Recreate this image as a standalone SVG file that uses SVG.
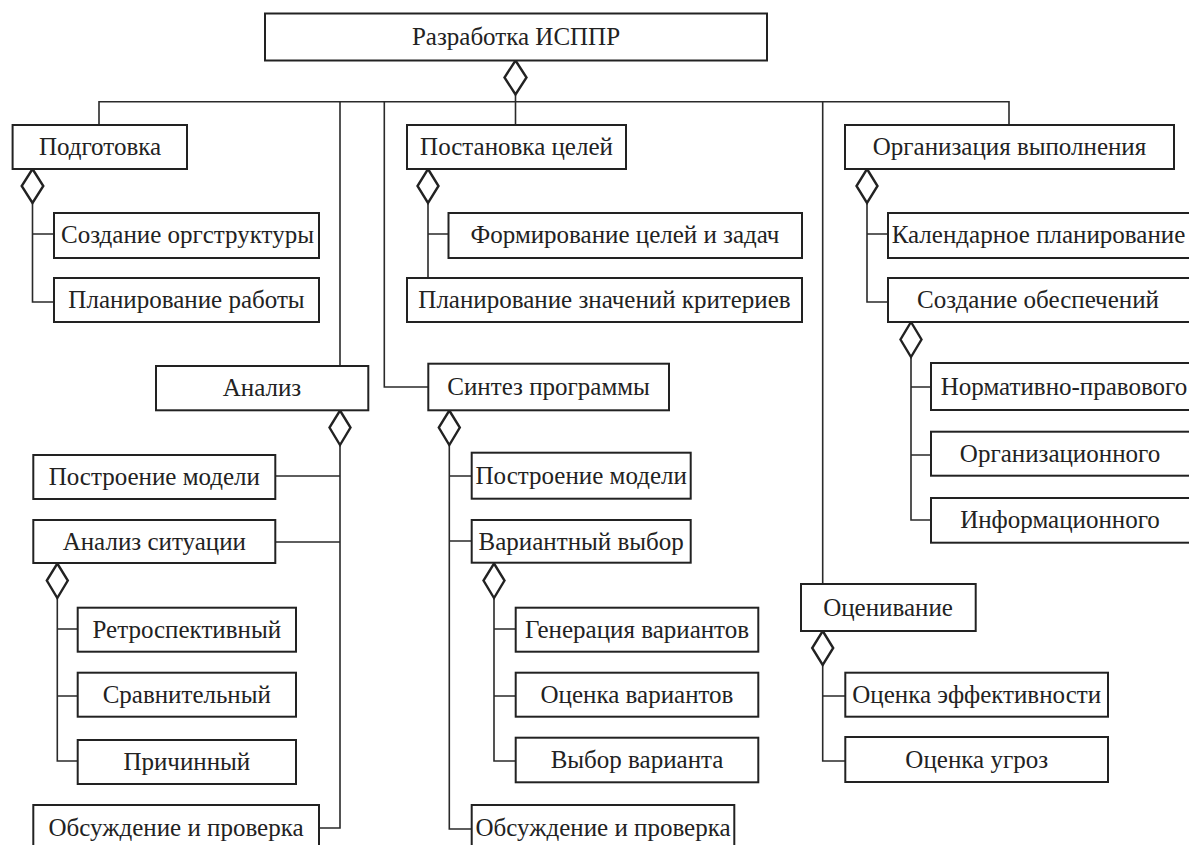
<svg xmlns="http://www.w3.org/2000/svg" width="1189" height="845" viewBox="0 0 1189 845">
<style>
.n rect{fill:#fff;stroke:#222;stroke-width:2}
.n text{font-family:"Liberation Serif","Times New Roman",serif;font-size:25px;fill:#222;text-anchor:middle}
.c path{fill:none;stroke:#2a2a2a;stroke-width:1.6}
.d{fill:#fff;stroke:#222;stroke-width:2.4}
</style>
<rect width="1189" height="845" fill="#fff"/>
<g class="c" id="connectors">
<path d="M99 125V101.7H1009V125"/>
<path d="M515.5 95V125"/>
<path d="M340 101.7V366"/>
<path d="M384.3 101.7V387H428"/>
<path d="M822.7 101.7V584"/>
<path d="M32.5 203V302H54M32.5 234H54"/>
<path d="M428 203V278M428 234H448"/>
<path d="M867 203V302H888M867 234H888"/>
<path d="M911 357V520H931M911 387H931M911 455H931"/>
<path d="M822.7 665V761H845M822.7 696H845"/>
<path d="M340 445V828H319M340 476H275M340 542H275"/>
<path d="M57.3 598V761H78M57.3 629H78M57.3 696H78"/>
<path d="M449.3 445V829H472M449.3 476H472M449.3 541H472"/>
<path d="M494 598V761H516M494 629H516M494 696H516"/>
<polygon class="d" points="515.5,60.5 526.5,77.5 515.5,94.5 504.5,77.5"/>
<polygon class="d" points="32.5,169 43.3,186 32.5,203 21.7,186"/>
<polygon class="d" points="428,169 438.5,186 428,203 417.5,186"/>
<polygon class="d" points="867,169 877.5,186 867,203 856.5,186"/>
<polygon class="d" points="911,322 921.5,339.5 911,357 900.5,339.5"/>
<polygon class="d" points="340,410.5 350.5,427.5 340,445 329.5,427.5"/>
<polygon class="d" points="449.3,410.5 459.8,427.5 449.3,445 438.8,427.5"/>
<polygon class="d" points="57.3,563.5 67.8,580.5 57.3,598 46.8,580.5"/>
<polygon class="d" points="494,563.5 504.5,580.5 494,598 483.5,580.5"/>
<polygon class="d" points="822.7,631 833.2,648 822.7,665 812.2,648"/>
</g>
<g class="n" id="root"><rect x="265" y="13.5" width="502" height="47"/><text x="516" y="45">Разработка ИСППР</text></g>
<g class="n" id="podgotovka"><rect x="12.6" y="125" width="174.4" height="44"/><text x="100" y="154.5">Подготовка</text></g>
<g class="n" id="sozdanie-orgstruktury"><rect x="54" y="213" width="265" height="45"/><text x="187.5" y="242.7">Создание оргструктуры</text></g>
<g class="n" id="planirovanie-raboty"><rect x="54" y="278" width="265" height="44"/><text x="186.5" y="308">Планирование работы</text></g>
<g class="n" id="postanovka-celey"><rect x="407" y="125" width="219" height="44"/><text x="516.5" y="154.5">Постановка целей</text></g>
<g class="n" id="formirovanie-celey"><rect x="448.5" y="213" width="353.5" height="45"/><text x="625" y="242.7">Формирование целей и задач</text></g>
<g class="n" id="planirovanie-znacheniy"><rect x="407" y="278" width="395" height="44"/><text x="604.5" y="308">Планирование значений критериев</text></g>
<g class="n" id="organizaciya"><rect x="845" y="125" width="329" height="44"/><text x="1009.5" y="154.5">Организация выполнения</text></g>
<g class="n" id="kalendarnoe"><rect x="888" y="213" width="302" height="45"/><text x="1038.5" y="242.7">Календарное планирование</text></g>
<g class="n" id="sozdanie-obespecheniy"><rect x="888" y="278" width="302" height="44"/><text x="1038" y="308">Создание обеспечений</text></g>
<g class="n" id="normativno"><rect x="931" y="363" width="260" height="47"/><text x="1064" y="395">Нормативно-правового</text></g>
<g class="n" id="organizacionnogo"><rect x="931" y="431.7" width="260" height="44"/><text x="1060" y="462">Организационного</text></g>
<g class="n" id="informacionnogo"><rect x="931" y="498" width="260" height="44.7"/><text x="1060" y="528">Информационного</text></g>
<g class="n" id="analiz"><rect x="156" y="366" width="212.3" height="44.3"/><text x="262" y="396">Анализ</text></g>
<g class="n" id="postroenie-modeli-1"><rect x="33.3" y="455" width="242" height="44"/><text x="154.3" y="485">Построение модели</text></g>
<g class="n" id="analiz-situacii"><rect x="33.3" y="520" width="242" height="43"/><text x="154.3" y="550">Анализ ситуации</text></g>
<g class="n" id="retrospektivnyy"><rect x="77.7" y="607.7" width="218.3" height="44"/><text x="186.8" y="638">Ретроспективный</text></g>
<g class="n" id="sravnitelnyy"><rect x="77.7" y="672.7" width="218.3" height="44"/><text x="186.8" y="703">Сравнительный</text></g>
<g class="n" id="prichinnyy"><rect x="77.7" y="740" width="218.3" height="44"/><text x="186.8" y="770">Причинный</text></g>
<g class="n" id="obsuzhdenie-1"><rect x="33.3" y="805" width="285.7" height="46"/><text x="176" y="836">Обсуждение и проверка</text></g>
<g class="n" id="sintez"><rect x="428.3" y="363.7" width="240.7" height="46.6"/><text x="548.6" y="395">Синтез программы</text></g>
<g class="n" id="postroenie-modeli-2"><rect x="471.7" y="452.7" width="219" height="46"/><text x="581.2" y="484">Построение модели</text></g>
<g class="n" id="variantnyy-vybor"><rect x="471.7" y="520" width="219" height="42.7"/><text x="581.2" y="550">Вариантный выбор</text></g>
<g class="n" id="generaciya"><rect x="515.7" y="607.7" width="242.6" height="44"/><text x="637" y="638">Генерация вариантов</text></g>
<g class="n" id="ocenka-variantov"><rect x="515.7" y="672.7" width="242.6" height="44"/><text x="637" y="703">Оценка вариантов</text></g>
<g class="n" id="vybor-varianta"><rect x="515.7" y="737.7" width="242.6" height="44.6"/><text x="637" y="768">Выбор варианта</text></g>
<g class="n" id="obsuzhdenie-2"><rect x="471.7" y="805" width="262.6" height="46"/><text x="603" y="836">Обсуждение и проверка</text></g>
<g class="n" id="ocenivanie"><rect x="801" y="584" width="174.7" height="47"/><text x="888" y="616">Оценивание</text></g>
<g class="n" id="ocenka-effektivnosti"><rect x="845.3" y="672.7" width="262.7" height="44"/><text x="976.7" y="703">Оценка эффективности</text></g>
<g class="n" id="ocenka-ugroz"><rect x="845.3" y="737" width="262.7" height="45"/><text x="976.7" y="768">Оценка угроз</text></g>
</svg>
